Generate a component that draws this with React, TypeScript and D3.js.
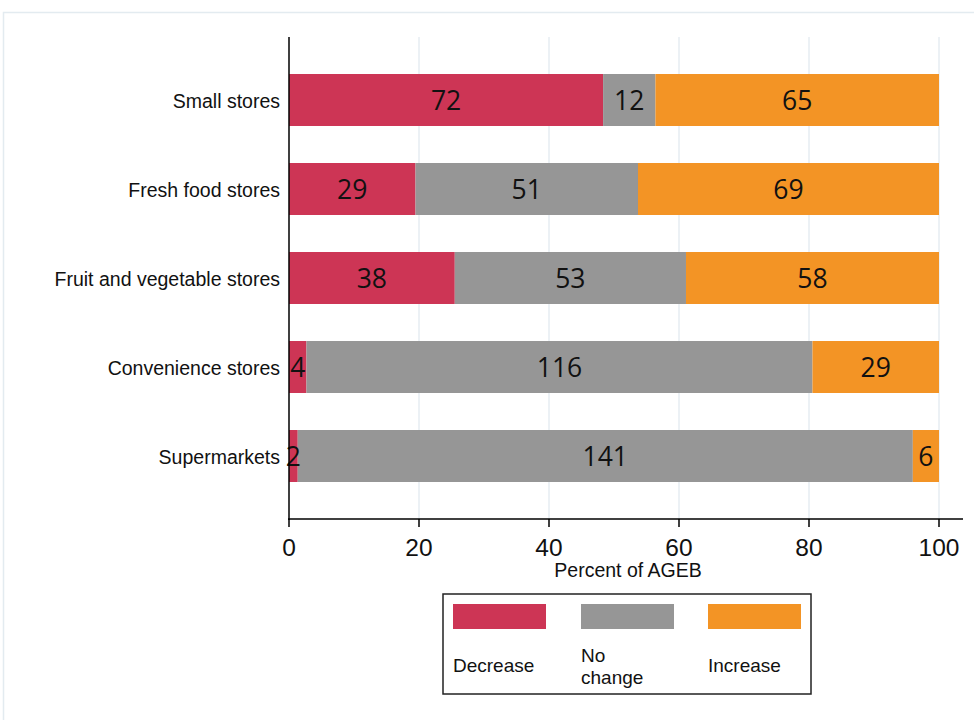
import React from "react";
import * as d3 from "d3";

const categories = ["Small stores", "Fresh food stores", "Fruit and vegetable stores", "Convenience stores", "Supermarkets"];
const decrease = [72, 29, 38, 4, 2];
const noChange = [12, 51, 53, 116, 141];
const increase = [65, 69, 58, 29, 6];
const seriesNames = ["Decrease", "No change", "Increase"];
const seriesColors = ["#cd3555", "#969696", "#f39425"];
const xTicks = [0, 20, 40, 60, 80, 100];

export default function App() {
  const W = 974, H = 720;
  const x = d3.scaleLinear().domain([0, 100]).range([289, 939]);
  const y = d3.scaleBand().domain(categories).range([55.5, 500.5]).paddingInner(0.416).paddingOuter(0.208);
  const series = [decrease, noChange, increase];

  const rows = categories.map((c, i) => {
    const vals = series.map(s => s[i]);
    const total = d3.sum(vals);
    let cum = 0;
    return vals.map((v, k) => {
      const p0 = cum;
      cum += (v / total) * 100;
      return { c, k, v, p0, p1: cum };
    });
  });

  const font = "'Liberation Sans', Arial, sans-serif";
  return (
    <svg width={W} height={H} style={{ position: "absolute", left: 0, top: 0, background: "#fff" }}>
      <rect x={3.5} y={12.5} width={W} height={H} fill="#fff" stroke="#e3ebf0" strokeWidth={1.5} />
      {xTicks.slice(1).map(t => (
        <line key={t} x1={x(t)} x2={x(t)} y1={37} y2={519} stroke="#dfe8ee" strokeWidth={1.2} />
      ))}
      {rows.map(r => r.map(s => (
        <rect key={s.c + s.k} x={x(s.p0)} y={y(s.c)} width={x(s.p1) - x(s.p0)} height={y.bandwidth()}
          fill={seriesColors[s.k]} />
      )))}
      {rows.map(r => r.map(s => (
        <text key={"t" + s.c + s.k} x={(x(s.p0) + x(s.p1)) / 2} y={y(s.c)! + y.bandwidth() / 2 + 9.5}
          textAnchor="middle" fontFamily="'Open Sans', sans-serif" fontSize={26.5} fill="#111">{s.v}</text>
      )))}
      {categories.map(c => (
        <text key={c} x={280} y={y(c)! + y.bandwidth() / 2 + 7.5} textAnchor="end" fontFamily={font} fontSize={19.5} fill="#111">{c}</text>
      ))}
      <line x1={289} x2={289} y1={37} y2={520} stroke="#000" strokeWidth={1.5} />
      <line x1={288} x2={963} y1={519} y2={519} stroke="#000" strokeWidth={1.5} />
      {xTicks.map(t => (
        <g key={"xt" + t}>
          <line x1={x(t)} x2={x(t)} y1={519} y2={527} stroke="#000" strokeWidth={1.5} />
          <text x={x(t)} y={556} textAnchor="middle" fontFamily={font} fontSize={24.5} fill="#111">{t}</text>
        </g>
      ))}
      <text x={628} y={577} textAnchor="middle" fontFamily={font} fontSize={19.5} fill="#111">Percent of AGEB</text>
      <rect x={443} y={594} width={368} height={100} fill="#fff" stroke="#222" strokeWidth={1.5} />
      {seriesNames.map((n, k) => {
        const lx = [453, 581, 708][k];
        return (
          <g key={n}>
            <rect x={lx} y={604} width={93} height={25} fill={seriesColors[k]} />
            {n === "No change" ? (
              <text fontFamily={font} fontSize={19} fill="#111">
                <tspan x={lx} y={662}>No</tspan>
                <tspan x={lx} y={684}>change</tspan>
              </text>
            ) : (
              <text x={lx} y={672} fontFamily={font} fontSize={19} fill="#111">{n}</text>
            )}
          </g>
        );
      })}
    </svg>
  );
}
